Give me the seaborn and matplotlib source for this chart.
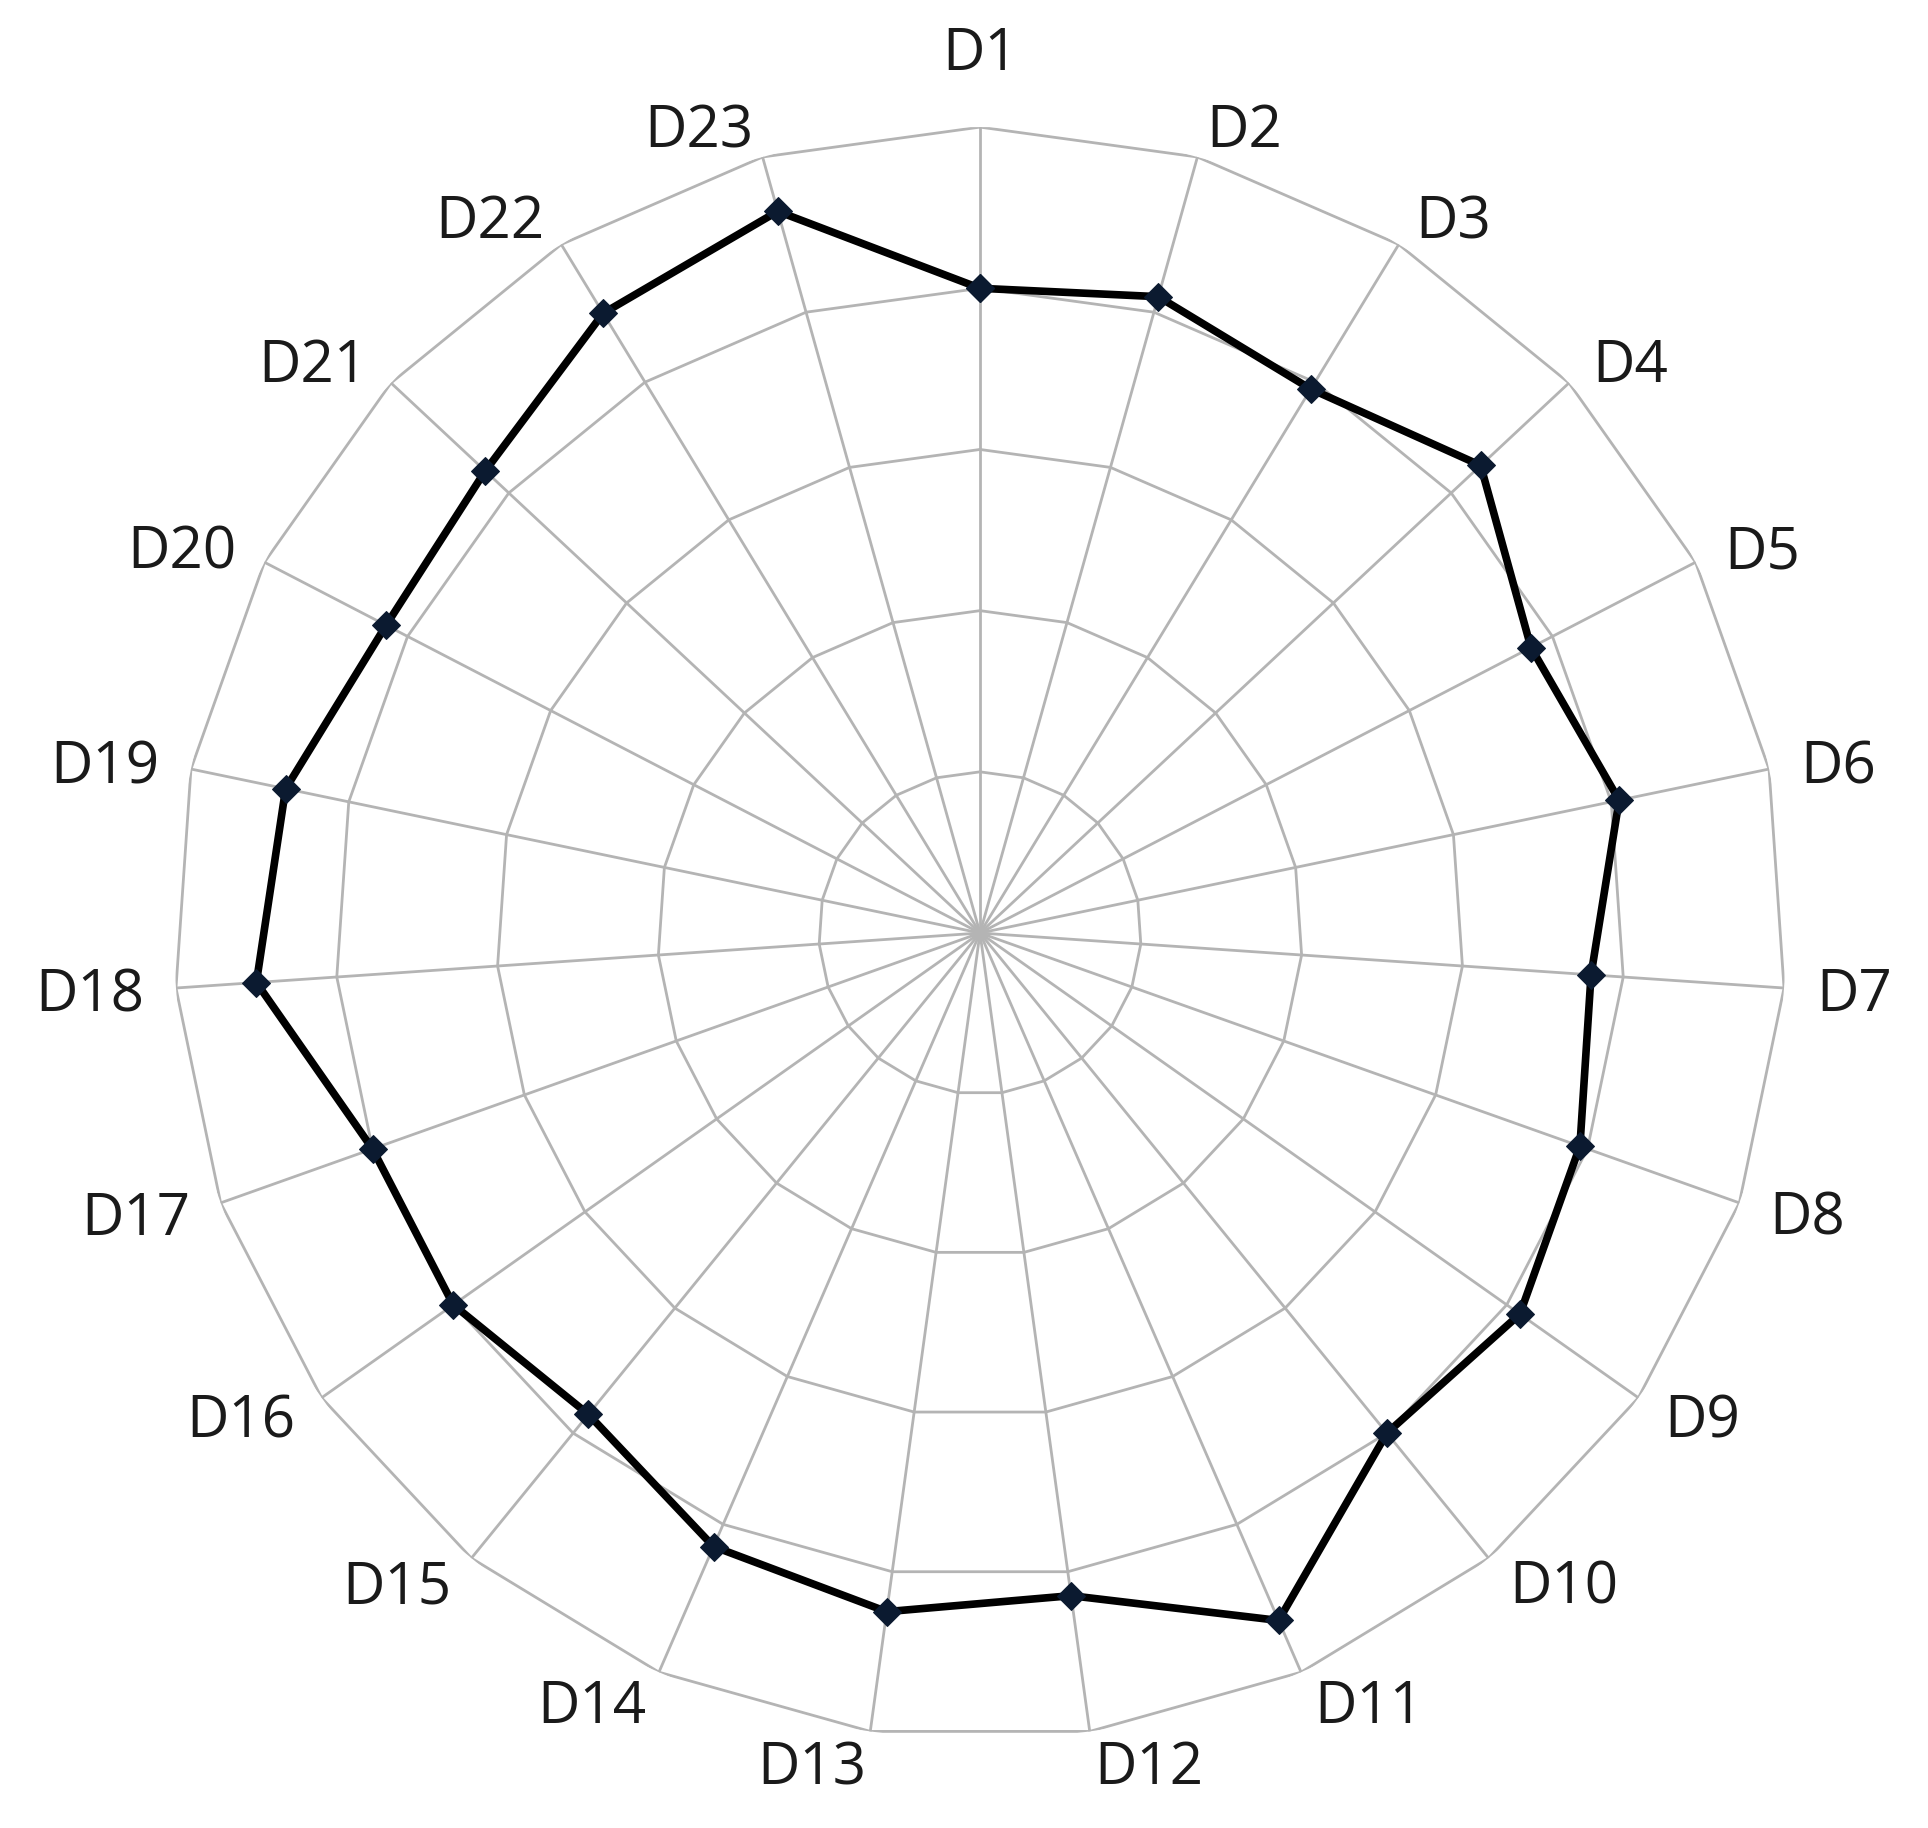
import numpy as np
import pandas as pd
import matplotlib
matplotlib.use("Agg")
import matplotlib.pyplot as plt
import seaborn as sns

labels = ["D%d" % i for i in range(1, 24)]
scores = [4.0, 4.1, 3.95, 4.25, 3.85, 4.05, 3.8, 3.95, 4.1, 4.0, 4.65, 4.15,
          4.25, 4.15, 3.85, 4.0, 4.0, 4.5, 4.4, 4.15, 4.2, 4.5, 4.65]
rings = [1, 2, 3, 4, 5]

sns.set_style("white")
plt.rcParams['font.family'] = ['Open Sans', 'DejaVu Sans']

n = len(labels)
theta = np.linspace(0, 2 * np.pi, n, endpoint=False)
theta_closed = np.append(theta, theta[0])

fig = plt.figure(figsize=(19.28, 18.28), dpi=100)
ax = fig.add_axes([0.0903, 0.0487, 0.836, 0.8818], projection='polar')
ax.set_theta_zero_location('N')
ax.set_theta_direction(-1)
ax.grid(False)
ax.spines['polar'].set_visible(False)
ax.set_ylim(0, rings[-1])
ax.set_yticks([])
ax.set_xticks([])

grid_col = '#b4b4b4'
for r in rings:
    ax.plot(theta_closed, [r] * (n + 1), color=grid_col, lw=2.0, zorder=1)
for t in theta:
    ax.plot([t, t], [0, rings[-1]], color=grid_col, lw=2.0, zorder=1)

df = pd.DataFrame({'theta': theta_closed, 'score': scores + scores[:1]})
sns.lineplot(data=df, x='theta', y='score', sort=False, estimator=None, ax=ax,
             color='black', lw=5.5, marker='D', markersize=14,
             markerfacecolor='#0b1a30', markeredgecolor='#0b1a30', zorder=3)

# category labels, placed beside the end of each spoke (Excel style)
gap = 32
cap_half = 21
for t, lab in zip(theta, labels):
    s, c = np.sin(t), np.cos(t)
    if abs(s) < 1e-3:
        ha, off = 'center', (0, 57)
    else:
        ha = 'left' if s > 0 else 'right'
        off = (gap * s, gap * c - cap_half)
    ax.annotate(lab, xy=(t, rings[-1]), xytext=off, textcoords='offset pixels',
                ha=ha, va='baseline', fontsize=42, color='#1a1a1a',
                annotation_clip=False)

ax.set_xlabel('')
ax.set_ylabel('')

fig.savefig('out.png', dpi=100, facecolor='white')
